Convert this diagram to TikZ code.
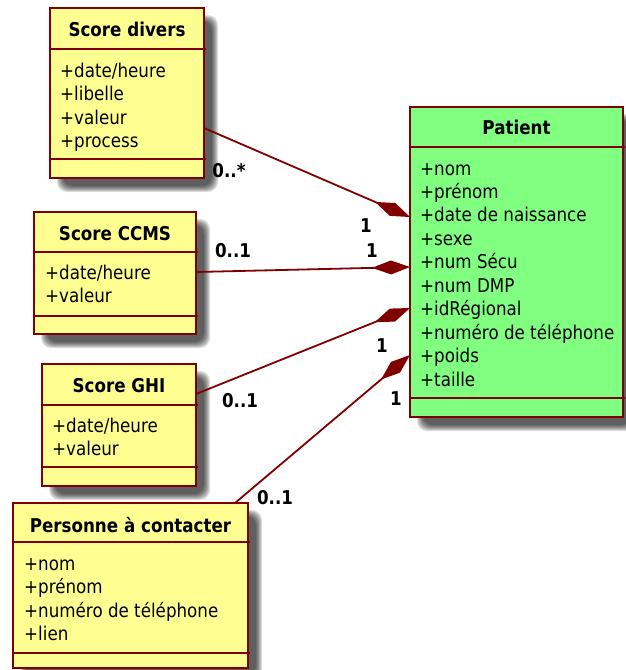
\documentclass[tikz,border=0pt]{standalone}
\usepackage{fontspec}
\setmainfont[FakeStretch=0.88]{DejaVu Sans}
\usetikzlibrary{arrows.meta,calc,backgrounds}

\definecolor{umlborder}{RGB}{128,0,0}
\definecolor{classyellow}{RGB}{255,255,145}
\definecolor{classgreen}{RGB}{128,255,128}

\tikzset{
  classbox/.style={draw=umlborder, line width=1.6pt, rectangle, inner sep=0pt,
    outer sep=0pt, anchor=north west},
  divider/.style={draw=umlborder, line width=1.3pt},
  classtitle/.style={font=\fontsize{19}{22}\selectfont\bfseries, anchor=base, inner sep=0pt},
  attr/.style={font=\fontsize{19}{22}\selectfont, anchor=base west, inner sep=0pt},
  mult/.style={font=\fontsize{19}{22}\selectfont\bfseries, anchor=base, inner sep=0pt},
  composition/.style={draw=umlborder, line width=1.8pt,
    -{Diamond[length=38pt,width=14pt]}},
}

% class frame: name, fill, x1, y1, x2, y2, y of title rule, y of operations rule
\newcommand\classframe[8]{%
  \node[classbox, fill=#2, minimum width={#5-#3}, minimum height={#6-#4}] (#1) at (#3,#4) {};
  \draw[divider] (#3,#7) -- (#5+2,#7);
  \draw[divider] (#3,#8) -- (#5+2,#8);
}

% soft drop shadow behind a class frame
\newcommand\softshadow[1]{%
  \foreach \k in {0,...,6}{%
    \fill[black, opacity=0.13, rounded corners=10pt]
      ($(#1.north west)+(7+\k,7+\k)$) rectangle ($(#1.south east)+(14-\k,14-\k)$);
  }%
}

\begin{document}
\begin{tikzpicture}[x=1pt, y=-1pt]
\useasboundingbox (0,0) rectangle (626,670);

% classes
\classframe{divers}{classyellow}{50}{8}{204}{178}{49}{159}
\node[classtitle] (diverst) at (127,36) {Score divers};
\foreach \t [count=\i] in {+date/heure,+libelle,+valeur,+process}
  \node[attr] (diversa\i) at (60,{77+23.5*(\i-1)}) {\t};

\classframe{ccms}{classyellow}{34}{212}{196}{334}{252}{316}
\node[classtitle] (ccmst) at (115,240) {Score CCMS};
\foreach \t [count=\i] in {+date/heure,+valeur}
  \node[attr] (ccmsa\i) at (45,{279+23.5*(\i-1)}) {\t};

\classframe{ghi}{classyellow}{42}{364}{196}{486}{405}{467}
\node[classtitle] (ghit) at (119,392) {Score GHI};
\foreach \t [count=\i] in {+date/heure,+valeur}
  \node[attr] (ghia\i) at (52,{432+23.5*(\i-1)}) {\t};

\classframe{contact}{classyellow}{13}{503}{248}{668}{542}{653}
\node[classtitle] (contactt) at (130.5,532) {Personne à contacter};
\foreach \t [count=\i] in {+nom,+prénom,+numéro de téléphone,+lien}
  \node[attr] (contacta\i) at (24,{570+23.5*(\i-1)}) {\t};

\classframe{patient}{classgreen}{410}{107}{623}{417}{147}{398}
\node[classtitle] (patientt) at (516.5,134) {Patient};
\foreach \t [count=\i] in {+nom,+prénom,+date de naissance,+sexe,+num Sécu,+num DMP,+idRégional,+numéro de téléphone,+poids,+taille}
  \node[attr] (patienta\i) at (420,{175+23.45*(\i-1)}) {\t};

% shadows under the frames
\begin{scope}[on background layer]
  \fill[white] (0,0) rectangle (626,670);
  \softshadow{divers}
  \softshadow{ccms}
  \softshadow{ghi}
  \softshadow{contact}
  \softshadow{patient}
\end{scope}

% compositions
\draw[composition] ($(divers.north east)+(0,120)$) -- ($(patient.north west)+(0,110)$);
\draw[composition] ($(ccms.north east)+(0,60)$) -- ($(patient.north west)+(0,160)$);
\draw[composition] ($(ghi.north east)+(0,30)$) -- ($(patient.north west)+(0,201)$);
\draw[composition] ($(contact.north west)+(222,0)$) -- ($(patient.north west)+(0,248)$);

% multiplicities
\node[mult] (m1) at (229,177) {0..*};
\node[mult] (n1) at (366,232) {1};
\node[mult] (m2) at (233,257) {0..1};
\node[mult] (n2) at (372,257) {1};
\node[mult] (m3) at (240,407) {0..1};
\node[mult] (n3) at (382,352) {1};
\node[mult] (m4) at (275,504) {0..1};
\node[mult] (n4) at (396,405) {1};
\end{tikzpicture}
\end{document}
